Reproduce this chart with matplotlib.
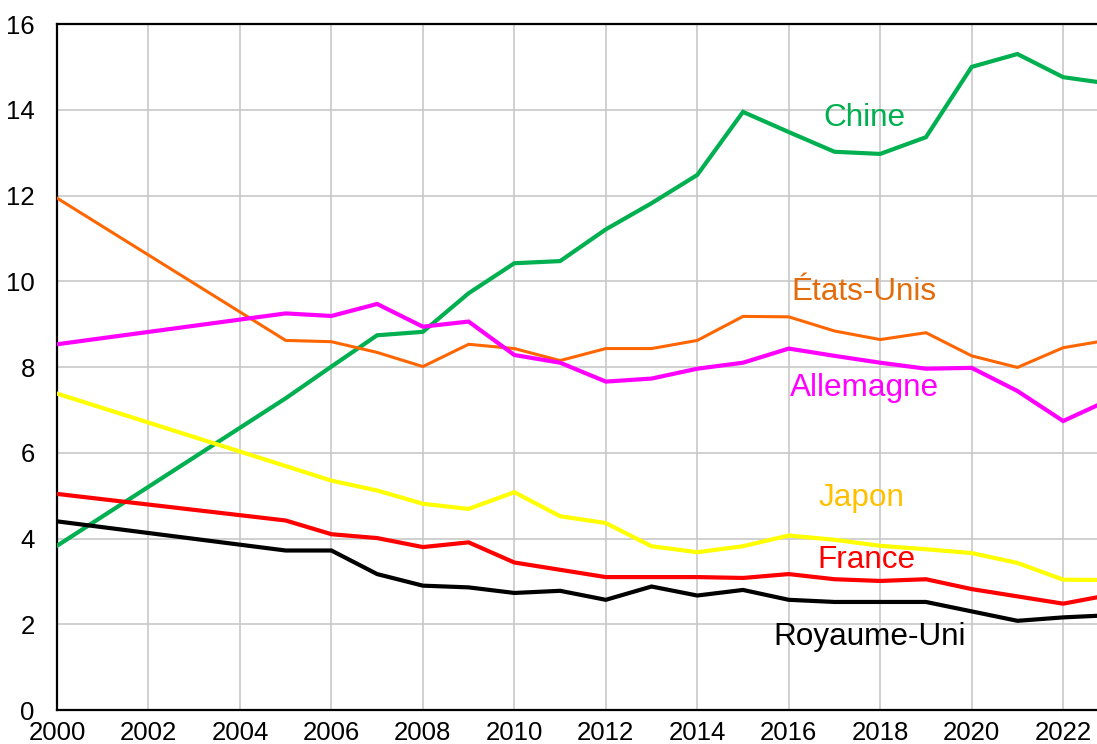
import matplotlib
matplotlib.use("Agg")
import matplotlib.pyplot as plt

# Années : point de départ 2000 puis série annuelle 2005-2023
annees = [2000] + list(range(2005, 2024))

chine = [3.83, 7.27, 8.01, 8.74, 8.82, 9.72, 10.42, 10.47, 11.21, 11.82, 12.48,
         13.95, 13.48, 13.02, 12.97, 13.36, 15.00, 15.30, 14.76, 14.61]
etats_unis = [11.94, 8.62, 8.59, 8.34, 8.01, 8.53, 8.43, 8.15, 8.43, 8.43, 8.62,
              9.18, 9.17, 8.84, 8.64, 8.80, 8.26, 7.99, 8.45, 8.63]
allemagne = [8.53, 9.25, 9.19, 9.47, 8.94, 9.06, 8.28, 8.10, 7.66, 7.73, 7.96,
             8.10, 8.43, 8.26, 8.10, 7.96, 7.98, 7.44, 6.74, 7.23]
japon = [7.38, 5.69, 5.35, 5.12, 4.81, 4.69, 5.08, 4.52, 4.36, 3.82, 3.68,
         3.82, 4.07, 3.97, 3.83, 3.75, 3.66, 3.43, 3.04, 3.03]
france = [5.04, 4.42, 4.10, 4.01, 3.80, 3.91, 3.44, 3.27, 3.10, 3.10, 3.10,
          3.08, 3.17, 3.05, 3.01, 3.05, 2.82, 2.65, 2.48, 2.68]
royaume_uni = [4.40, 3.72, 3.72, 3.17, 2.90, 2.86, 2.73, 2.78, 2.57, 2.88, 2.67,
               2.80, 2.57, 2.52, 2.52, 2.52, 2.30, 2.08, 2.16, 2.21]

# (série, couleur de la courbe, épaisseur, libellé, couleur du libellé, position du libellé)
series = [
    (chine, "#00B050", 3.0, "Chine", "#00B050", (2017.65, 13.81)),
    (etats_unis, "#FF6600", 2.2, "États-Unis", "#E36C0A", (2017.65, 9.74)),
    (allemagne, "#FF00FF", 3.0, "Allemagne", "#FF00FF", (2017.65, 7.52)),
    (japon, "#FFFF00", 3.0, "Japon", "#FFC000", (2017.58, 4.95)),
    (france, "#FF0000", 3.0, "France", "#FF0000", (2017.69, 3.50)),
    (royaume_uni, "#000000", 3.0, "Royaume-Uni", "#000000", (2017.76, 1.71)),
]

plt.rcParams["font.family"] = ["Liberation Sans", "DejaVu Sans"]

fig = plt.figure(figsize=(10.97, 7.44), dpi=100)
ax = fig.add_axes([57 / 1097, 34 / 744, 1 - 57 / 1097, (710 - 24) / 744])

for vals, col, lw, lab, lab_col, (lx, ly) in series:
    ax.plot(annees, vals, color=col, lw=lw, solid_joinstyle="miter", zorder=3)
    ax.text(lx, ly, lab, color=lab_col, fontsize=22.7, ha="center", va="center", zorder=4)

ax.set_xlim(2000, 2022.74)
ax.set_ylim(0, 16)
ax.set_xticks(range(2000, 2023, 2))
ax.set_yticks(range(0, 17, 2))
ax.grid(True, color="#C8C8C8", lw=1.2, zorder=0)
ax.set_axisbelow(True)

ax.tick_params(axis="both", length=0, labelsize=18.5)
ax.tick_params(axis="y", pad=16)
ax.tick_params(axis="x", pad=8)

for side in ("left", "bottom", "top"):
    ax.spines[side].set_linewidth(1.6)
    ax.spines[side].set_color("black")
ax.spines["right"].set_visible(False)

fig.savefig("out.png", dpi=100)
